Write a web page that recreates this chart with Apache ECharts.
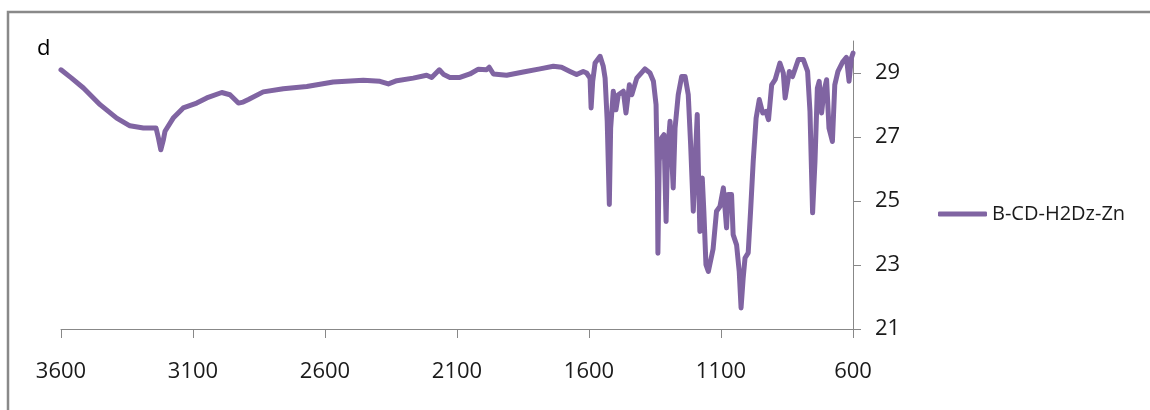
<!DOCTYPE html>
<html>
<head>
<meta charset="utf-8">
<script src="https://cdn.jsdelivr.net/npm/echarts@6/dist/echarts.min.js"></script>
<style>html,body{margin:0;padding:0;background:#fff;}#c{width:1150px;height:410px;}</style>
</head>
<body>
<div id="c"></div>
<script>
var seriesName = 'B-CD-H2Dz-Zn';
var xTicks = [3600, 3100, 2600, 2100, 1600, 1100, 600];
var yTicks = [21, 23, 25, 27, 29];
var wavenumbers = [3600,3560,3515,3452,3389,3339,3288,3240,3231,3222,3212,3206,3175,3137,3086,3048,2991,2960,2928,2910,2890,2884,2834,2758,2669,2569,2455,2392,2360,2328,2266,2215,2196,2167,2150,2127,2089,2051,2019,1988,1978,1962,1912,1849,1786,1735,1704,1672,1647,1622,1609,1596,1592,1586,1577,1558,1546,1539,1531,1523,1518,1508,1498,1489,1470,1460,1447,1438,1419,1388,1369,1356,1346,1341,1339,1334,1325,1316,1308,1303,1293,1287,1281,1274,1262,1249,1236,1224,1215,1205,1195,1190,1185,1180,1171,1165,1157,1148,1142,1130,1117,1104,1091,1079,1073,1060,1054,1041,1031,1024,1016,1009,997,988,978,967,955,942,930,920,908,895,877,864,857,841,829,807,788,772,763,753,744,735,728,719,710,700,691,678,669,657,638,625,615,606,600];
var transmittance = [29.10,28.84,28.53,28.01,27.59,27.35,27.28,27.28,26.97,26.60,26.92,27.18,27.59,27.91,28.06,28.22,28.39,28.32,28.06,28.09,28.17,28.22,28.41,28.51,28.58,28.72,28.77,28.74,28.66,28.76,28.84,28.93,28.86,29.10,28.95,28.86,28.86,28.97,29.12,29.10,29.18,28.97,28.93,29.03,29.13,29.21,29.18,29.05,28.95,29.05,29.00,28.84,27.91,28.74,29.31,29.52,29.21,28.84,27.49,24.89,27.28,28.43,27.85,28.32,28.43,27.75,28.63,28.32,28.84,29.13,29.00,28.74,28.01,25.72,23.37,26.24,26.97,27.07,24.36,26.45,27.49,27.54,25.41,27.28,28.32,28.89,28.89,28.32,26.76,24.68,26.76,27.70,25.72,24.05,25.72,24.68,23.01,22.80,22.80,23.50,24.68,24.83,25.41,24.16,25.20,25.20,23.95,23.63,22.80,21.66,22.59,23.22,23.38,24.68,26.24,27.59,28.17,27.75,27.80,27.54,28.63,28.79,29.31,29.00,28.22,29.05,28.89,29.42,29.42,29.05,27.80,24.63,26.24,28.53,28.74,27.75,28.43,28.79,27.28,26.86,28.63,29.05,29.36,29.49,28.74,29.47,29.62];

var data = wavenumbers.map(function (w, i) { return [w, transmittance[i]]; });
var font = '"Open Sans", sans-serif';
var chart = echarts.init(document.getElementById('c'), null, {renderer: 'canvas'});
chart.setOption({
  animation: false,
  backgroundColor: '#ffffff',
  grid: {left: 61, right: 297, top: 41, bottom: 81, containLabel: false},
  xAxis: {
    type: 'value', inverse: true, min: 600, max: 3600,
    splitLine: {show: false},
    axisLine: {show: true, lineStyle: {color: '#888888', width: 1}},
    axisTick: {show: true, length: 9, inside: false, customValues: xTicks, lineStyle: {color: '#888888'}},
    axisLabel: {customValues: xTicks, margin: 32, color: '#1a1a1a', fontSize: 22, fontFamily: font,
      formatter: function (v) { return String(v); }}
  },
  yAxis: {
    type: 'value', position: 'right', min: 21, max: 30,
    splitLine: {show: false},
    axisLine: {show: true, lineStyle: {color: '#888888', width: 1}},
    axisTick: {show: true, length: 8, inside: false, customValues: yTicks, lineStyle: {color: '#888888'}},
    axisLabel: {customValues: yTicks, margin: 22, color: '#1a1a1a', fontSize: 22, fontFamily: font,
      formatter: function (v) { return String(v); }}
  },
  legend: {
    show: true, orient: 'vertical', left: 938, top: 202, padding: 0,
    icon: 'roundRect', itemWidth: 49, itemHeight: 5,
    textStyle: {fontSize: 20, fontFamily: font, color: '#1a1a1a', lineHeight: 24},
    data: [seriesName]
  },
  series: [{
    name: seriesName, type: 'line', data: data,
    showSymbol: false, symbol: 'none', smooth: false,
    lineStyle: {color: '#8064A2', width: 5, cap: 'round', join: 'round'},
    itemStyle: {color: '#8064A2'}
  }],
  graphic: [
    {type: 'rect', shape: {x: 8, y: 12, width: 1200, height: 500}, style: {fill: 'none', stroke: '#898989', lineWidth: 2.5}, z: 10},
    {type: 'text', x: 37, y: 38, style: {text: 'd', font: '22px "Open Sans", sans-serif', fill: '#000000', verticalAlign: 'top'}, z: 10},
    {type: 'rect', shape: {x: 33, y: 57, width: 24, height: 8}, style: {fill: '#ffffff'}, z: 11}
  ]
});
</script>
</body>
</html>
